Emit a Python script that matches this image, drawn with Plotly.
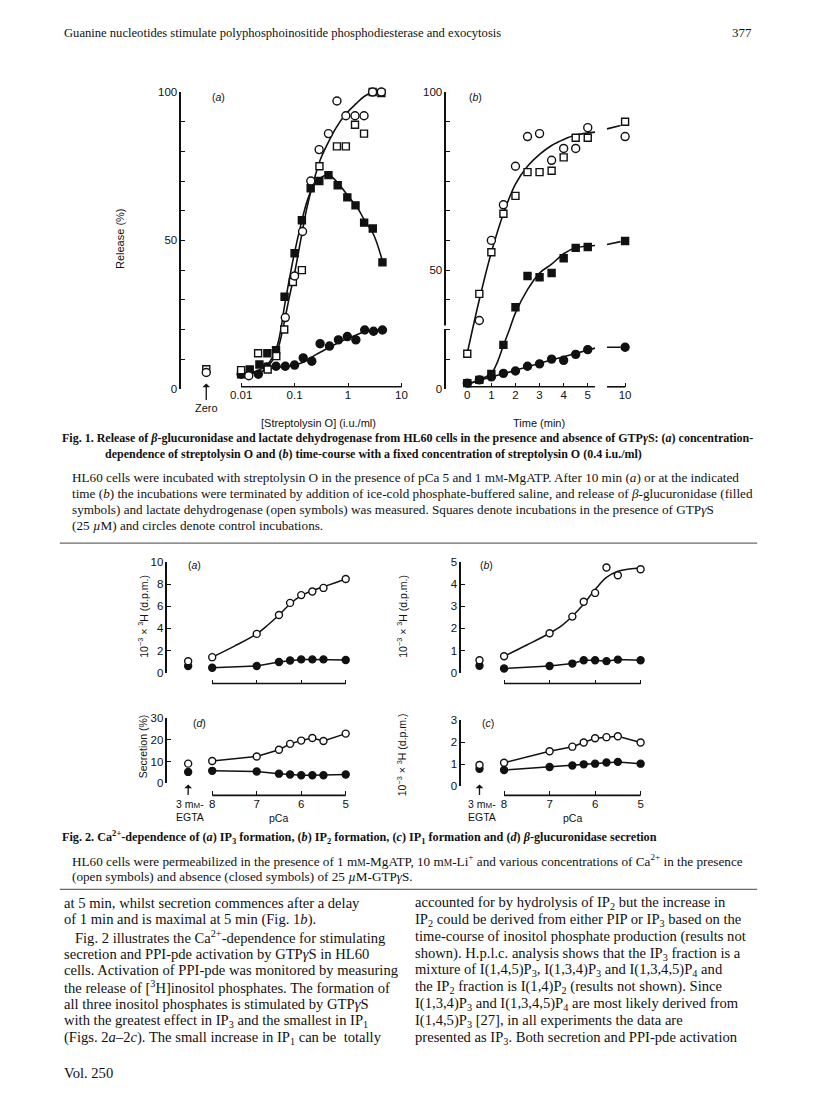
import math
import plotly.graph_objects as go

W, H = 816, 1104
def px(x): return x / W
def py(y): return 1 - y / H

SERIF = "Liberation Serif"
SANS = "Liberation Sans"
INK = "#111111"

# ---------------- Fig 1a : streptolysin O concentration ----------------
SLO_OC_X = [0.0139, 0.067, 0.1, 0.141, 0.201, 0.288, 0.43, 0.62, 0.91, 1.35, 1.99, 2.88, 4.2]
SLO_OC_Y = [4.4, 24, 38, 53, 70, 80.6, 86, 97, 92, 92, 92, 100, 100]
SLO_OS_X = [0.01, 0.0208, 0.0314, 0.0455, 0.064, 0.093, 0.137, 0.292, 0.62, 0.91, 1.35, 1.99, 2.88, 4.2]
SLO_OS_Y = [6.3, 12, 6.5, 11, 20, 36, 40, 75, 81.7, 81.7, 89, 86, 100, 99.7]
SLO_FS_X = [0.01, 0.0145, 0.022, 0.031, 0.045, 0.065, 0.1, 0.137, 0.2, 0.29, 0.43, 0.64, 0.97, 1.38, 2.0, 2.9, 4.4]
SLO_FS_Y = [4.9, 6.5, 8.2, 12, 13, 31, 45.7, 56.8, 67.6, 70, 72, 68.6, 64.5, 61.8, 56, 54, 42.6]
SLO_FC_X = [0.01, 0.021, 0.03, 0.045, 0.067, 0.1, 0.145, 0.21, 0.3, 0.45, 0.66, 0.97, 1.4, 2.05, 3.0, 4.4]
SLO_FC_Y = [4.9, 4.9, 7.4, 7.6, 7.6, 8, 10.4, 9.3, 15.2, 14.4, 16.5, 17.6, 16.5, 19.8, 19.4, 19.8]
ZERO_OPEN_CIRCLE = 5.5
ZERO_OPEN_SQUARE = 6.6

SLO_CURVE_OPEN_X = [0.03, 0.04, 0.05, 0.065, 0.08, 0.1, 0.13, 0.17, 0.22, 0.3, 0.4, 0.6, 0.9, 1.4, 2.0, 3.0, 4.3]
SLO_CURVE_OPEN_Y = [7, 10, 14, 23, 31, 39, 50, 61, 69, 77, 82, 88, 92.5, 96, 98.5, 100, 100]
SLO_CURVE_FS_X = [0.01, 0.02, 0.03, 0.04, 0.05, 0.065, 0.08, 0.1, 0.13, 0.17, 0.22, 0.3, 0.43, 0.6, 1.0, 1.5, 2.0, 3.0, 4.4]
SLO_CURVE_FS_Y = [5, 6, 8, 11, 16, 28, 37, 46, 55, 63, 68, 71, 72, 70, 65, 61, 57, 52, 43]
SLO_CURVE_FC_X = [0.01, 0.02, 0.04, 0.07, 0.1, 0.15, 0.25, 0.4, 0.7, 1.0, 1.5, 2.0, 3.0, 4.4]
SLO_CURVE_FC_Y = [5, 5.5, 7, 7.6, 8, 9, 11.5, 13.5, 15.8, 17, 18.3, 19.2, 19.8, 20]
SLO_TICKS = [0.01, 0.1, 1, 10]
SLO_TICK_TEXT = ["0.01", "0.1", "1", "10"]

# ---------------- Fig 1b : time course ----------------
T_PTS = [0, 0.5, 1, 1.5, 2, 2.5, 3, 3.5, 4, 4.5, 5, 10]
T_OC_Y = [None, 23, 50, 62, 75, 85, 86, 77, 81, 81, 88, 85]
T_OS_Y = [11.8, 32, 46, 59, 65, 73, 73, 73.5, 78, 84.6, 84.6, 90]
T_FS_Y = [1.9, 3, 5, 14.8, 27.5, 38, 37.6, 39, 44, 47.5, 47.8, 49.8]
T_FC_Y = [1.9, 3, 4, 5.2, 6, 7.6, 8.4, 10, 9.6, 11.6, 13.2, 14]

T_CURVE_OPEN_T = [0, 0.5, 1, 1.5, 2, 2.5, 3, 3.5, 4, 4.5, 5.3]
T_CURVE_OPEN_Y = [12, 30, 46, 59, 69, 75, 79, 82, 84, 85.5, 86.5]
T_CURVE_FS_T = [0, 0.5, 1, 1.25, 1.5, 1.75, 2, 2.5, 3, 3.5, 4, 4.5, 5.3]
T_CURVE_FS_Y = [1.3, 3, 5.2, 9, 14.6, 20, 25.6, 33.4, 39, 42, 45.5, 47.5, 48.3]
T_CURVE_FC_T = [0, 1, 2, 3, 4, 5.3]
T_CURVE_FC_Y = [1.7, 4, 6.2, 8.6, 10.8, 13.7]
T_TAIL_T = [8, 9.5]
T_TAIL_OPEN_Y = [87.6, 88.7]
T_TAIL_FS_Y = [48.6, 49.6]
T_TAIL_FC_Y = [14, 14]
T_TICKS = [0, 1, 2, 3, 4, 5, 10]

def tpos(t):
    # broken time axis: 0-5 min linear, then a compressed stretch up to 10 min
    return t if t <= 5.5 else 6.55 - (10 - t) * 0.375

# ---------------- Fig 2 : pCa dependence ----------------
PCA = [8, 7, 6.5, 6.25, 6, 5.75, 5.5, 5]
EGTA_POS = 8.54
IP3_OPEN = [1.4, 3.5, 5.2, 6.3, 7.0, 7.33, 7.65, 8.45]
IP3_CLOSED = [0.44, 0.6, 0.97, 1.1, 1.2, 1.2, 1.2, 1.15]
IP3_EGTA = (1.03, 0.6)
IP2_OPEN = [0.74, 1.78, 2.53, 3.2, 3.6, 4.75, 4.4, 4.67]
IP2_CLOSED = [0.19, 0.3, 0.41, 0.56, 0.56, 0.52, 0.59, 0.56]
IP2_EGTA = (0.56, 0.31)
IP1_OPEN = [1.07, 1.59, 1.8, 1.99, 2.18, 2.23, 2.27, 1.99]
IP1_CLOSED = [0.74, 0.88, 0.95, 1.0, 1.03, 1.08, 1.11, 1.03]
IP1_EGTA = (0.97, 0.8)
SEC_OPEN = [10.3, 12.4, 15.5, 18.2, 19.7, 20.9, 19.5, 22.9]
SEC_CLOSED = [5.8, 5.5, 4.5, 4.1, 3.8, 3.8, 3.8, 4.1]
SEC_EGTA = (9.1, 5.3)

IP3_CURVE_PCA = [8, 7.5, 7, 6.75, 6.5, 6.25, 6, 5.75, 5.5, 5.25, 5]
IP3_CURVE_Y = [1.4, 2.4, 3.5, 4.3, 5.2, 6.2, 6.95, 7.4, 7.75, 8.1, 8.45]
IP2_CURVE_PCA = [8, 7.5, 7, 6.75, 6.5, 6.25, 6, 5.75, 5.5, 5.25, 5]
IP2_CURVE_Y = [0.74, 1.25, 1.78, 2.1, 2.55, 3.1, 3.75, 4.3, 4.58, 4.68, 4.72]

fig = go.Figure()

def mk(symbol, filled, size):
    return dict(symbol=symbol, size=size, color=INK if filled else "white",
                line=dict(color=INK, width=1.4))

def line_trace(x, y, xa, ya, spline=True, width=1.6):
    fig.add_trace(go.Scatter(x=x, y=y, xaxis=xa, yaxis=ya, mode="lines",
                             line=dict(color=INK, width=width, shape="spline" if spline else "linear",
                                       smoothing=1.0),
                             hoverinfo="skip", showlegend=False, cliponaxis=False))

def pts(x, y, xa, ya, symbol, filled, size=8):
    fig.add_trace(go.Scatter(x=x, y=y, xaxis=xa, yaxis=ya, mode="markers",
                             marker=mk(symbol, filled, size), showlegend=False, cliponaxis=False))

# ---- Fig 1a traces
ZERO_LOG = -2.652
line_trace(SLO_CURVE_FC_X, SLO_CURVE_FC_Y, "x", "y")
line_trace(SLO_CURVE_FS_X, SLO_CURVE_FS_Y, "x", "y")
line_trace(SLO_CURVE_OPEN_X, SLO_CURVE_OPEN_Y, "x", "y")
pts(SLO_FC_X, SLO_FC_Y, "x", "y", "circle", True)
pts(SLO_FS_X, SLO_FS_Y, "x", "y", "square", True, 7)
pts(SLO_OS_X, SLO_OS_Y, "x", "y", "square", False, 7)
pts(SLO_OC_X, SLO_OC_Y, "x", "y", "circle", False)
pts([10 ** ZERO_LOG], [ZERO_OPEN_SQUARE], "x", "y", "square", False, 7)
pts([10 ** ZERO_LOG], [ZERO_OPEN_CIRCLE], "x", "y", "circle", False)

# ---- Fig 1b traces
line_trace([tpos(t) for t in T_CURVE_FC_T], T_CURVE_FC_Y, "x2", "y2")
line_trace([tpos(t) for t in T_CURVE_FS_T], T_CURVE_FS_Y, "x2", "y2")
line_trace([tpos(t) for t in T_CURVE_OPEN_T], T_CURVE_OPEN_Y, "x2", "y2")
for tail in (T_TAIL_OPEN_Y, T_TAIL_FS_Y, T_TAIL_FC_Y):
    line_trace([tpos(t) for t in T_TAIL_T], tail, "x2", "y2", spline=False)
tp = [tpos(t) for t in T_PTS]
pts(tp, T_FC_Y, "x2", "y2", "circle", True)
pts(tp, T_FS_Y, "x2", "y2", "square", True, 7)
pts(tp, T_OS_Y, "x2", "y2", "square", False, 7)
pts(tp, T_OC_Y, "x2", "y2", "circle", False)

# ---- Fig 2 traces
def panel(xa, ya, open_y, closed_y, egta, curve=None):
    if curve:
        line_trace(curve[0], curve[1], xa, ya, spline=True, width=1.5)
    else:
        line_trace(PCA, open_y, xa, ya, spline=False, width=1.5)
    line_trace(PCA, closed_y, xa, ya, spline=False, width=1.5)
    pts(PCA, closed_y, xa, ya, "circle", True, 7)
    pts(PCA, open_y, xa, ya, "circle", False, 7)
    pts([EGTA_POS], [egta[1]], xa, ya, "circle", True, 7)
    pts([EGTA_POS], [egta[0]], xa, ya, "circle", False, 7)

panel("x3", "y3", IP3_OPEN, IP3_CLOSED, IP3_EGTA, (IP3_CURVE_PCA, IP3_CURVE_Y))
panel("x4", "y4", IP2_OPEN, IP2_CLOSED, IP2_EGTA, (IP2_CURVE_PCA, IP2_CURVE_Y))
panel("x5", "y5", SEC_OPEN, SEC_CLOSED, SEC_EGTA)
panel("x6", "y6", IP1_OPEN, IP1_CLOSED, IP1_EGTA)

tickfont = dict(family=SANS, size=11.5, color=INK)

def yax(dom, rng, tickvals, ticktext, anchor):
    return dict(domain=dom, range=rng, anchor=anchor, showline=True, linecolor=INK, linewidth=1.6,
                ticks="inside", ticklen=4, tickwidth=1.4, tickcolor=INK, tickvals=tickvals,
                ticktext=ticktext, tickfont=tickfont, showgrid=False, zeroline=False, fixedrange=True)

def xax(dom, rng, pos, tickvals, ticktext, typ="linear"):
    return dict(domain=dom, range=rng, type=typ, anchor="free", position=pos, showline=False,
                ticks="inside", ticklen=4, tickwidth=1.4, tickcolor=INK, tickvals=tickvals,
                ticktext=ticktext, tickfont=tickfont, showgrid=False, zeroline=False, fixedrange=True)

Y1_TICKS = list(range(0, 101, 10))
layout = dict(
    width=W, height=H, autosize=False, margin=dict(l=0, r=0, t=0, b=0),
    paper_bgcolor="white", plot_bgcolor="rgba(0,0,0,0)", showlegend=False,
    xaxis=xax([px(182), px(406)], [-3.118, 1.056], py(385), SLO_TICKS, SLO_TICK_TEXT, "log"),
    yaxis=yax([py(387), py(87)], [0, 100], Y1_TICKS,
              ["0" if v == 0 else "50" if v == 50 else "100" if v == 100 else "" for v in Y1_TICKS], "x"),
    xaxis2=xax([px(448), px(632)], [-0.868, 6.74], py(385), [tpos(t) for t in T_TICKS],
               [str(t) for t in T_TICKS]),
    yaxis2=yax([py(387), py(87)], [0, 100], Y1_TICKS,
               ["0" if v == 0 else "50" if v == 40 else "100" if v == 100 else "" for v in Y1_TICKS], "x2"),
    xaxis3=xax([px(168), px(352)], [9.007, 4.888], py(685), [8, 7, 6, 5], ["", "", "", ""]),
    yaxis3=yax([py(674), py(562)], [0, 10], [0, 2, 4, 6, 8, 10], ["0", "2", "4", "6", "8", "10"], "x3"),
    xaxis4=xax([px(463), px(648)], [8.94, 4.89], py(685), [8, 7, 6, 5], ["", "", "", ""]),
    yaxis4=yax([py(674), py(562)], [0, 5], [0, 1, 2, 3, 4, 5], ["0", "1", "2", "3", "4", "5"], "x4"),
    xaxis5=xax([px(168), px(352)], [9.007, 4.888], py(798), [8, 7, 6, 5], ["8", "7", "6", "5"]),
    yaxis5=yax([py(786), py(720)], [0, 30], [0, 10, 20, 30], ["0", "10", "20", "30"], "x5"),
    xaxis6=xax([px(463), px(648)], [8.94, 4.89], py(798), [8, 7, 6, 5], ["8", "7", "6", "5"]),
    yaxis6=yax([py(789), py(722)], [0, 3], [0, 1, 2, 3], ["0", "1", "2", "3"], "x6"),
)
fig.update_layout(**layout)

shapes = []
def hline(x0, x1, y, w=1.6, color=INK):
    shapes.append(dict(type="line", xref="paper", yref="paper", x0=px(x0), x1=px(x1),
                       y0=py(y), y1=py(y), line=dict(color=color, width=w)))

def log_px(v):  # page pixel x of a value on Fig 1a log axis
    return 182 + (math.log10(v) + 3.118) / (1.056 + 3.118) * (406 - 182)
def lin_px(v, d0, d1, r0, r1):
    return d0 + (v - r0) / (r1 - r0) * (d1 - d0)

hline(log_px(SLO_TICKS[0]), log_px(SLO_TICKS[-1]), 385)
hline(lin_px(tpos(0), 448, 632, -0.868, 6.74), lin_px(tpos(5.3), 448, 632, -0.868, 6.74), 385)
hline(lin_px(tpos(8), 448, 632, -0.868, 6.74), lin_px(tpos(10), 448, 632, -0.868, 6.74), 385)
for (d0, d1, r0, r1, yy) in [(168, 352, 9.007, 4.888, 685), (463, 648, 8.94, 4.89, 685),
                             (168, 352, 9.007, 4.888, 798), (463, 648, 8.94, 4.89, 798)]:
    hline(lin_px(8, d0, d1, r0, r1), lin_px(5, d0, d1, r0, r1), yy)
# small break in Fig 1b y axis
shapes.append(dict(type="rect", xref="paper", yref="paper", x0=px(445.5), x1=px(450),
                   y0=py(326.5), y1=py(323), fillcolor="white", line=dict(width=0), layer="above"))
# page rules
hline(60, 760, 543, 1.0, "#444")
hline(60, 760, 893, 1.0, "#444")

annotations = []
def txt(x, y, s, size=13, family=SERIF, anchor="left", angle=0, color=INK):
    annotations.append(dict(xref="paper", yref="paper", x=px(x), y=py(y), text=s, showarrow=False,
                            xanchor=anchor, yanchor="middle", textangle=angle,
                            font=dict(family=family, size=size, color=color)))

MM = "m<span style='font-size:9.5px'>M</span>"
MM_SANS = "m<span style='font-size:8px'>M</span>"

# header
txt(62, 27, "Guanine nucleotides stimulate polyphosphoinositide phosphodiesterase and exocytosis", 12.6)
txt(757, 27, "377", 13, anchor="right")

# Fig 1 annotations
txt(211, 92, "(<i>a</i>)", 10.5, SANS)
txt(469, 92, "(<i>b</i>)", 10.5, SANS)
txt(121, 235, "Release (%)", 11, SANS, "center", -90)
txt(320, 422, "[Streptolysin O] (i.u./ml)", 11, SANS, "center")
txt(541, 422, "Time (min)", 11, SANS, "center")
txt(207, 406, "Zero", 11, SANS, "center")
annotations.append(dict(xref="x", yref="y", x=ZERO_LOG, y=1.8, ax=0, ay=18, showarrow=True,
                        arrowhead=1, arrowsize=1, arrowwidth=1.3, arrowcolor=INK, text=""))

# Fig 1 caption
txt(60, 437, "<b>Fig. 1. Release of <i>β</i>-glucuronidase and lactate dehydrogenase from HL60 cells in the presence and absence of GTP<i>γ</i>S: (<i>a</i>) concentration-</b>", 12.0)
txt(103, 453, "<b>dependence of streptolysin O and (<i>b</i>) time-course with a fixed concentration of streptolysin O (0.4 i.u./ml)</b>", 12.0)
cap1 = [
    "HL60 cells were incubated with streptolysin O in the presence of pCa 5 and 1 " + MM + "-MgATP. After 10 min (<i>a</i>) or at the indicated",
    "time (<i>b</i>) the incubations were terminated by addition of ice-cold phosphate-buffered saline, and release of <i>β</i>-glucuronidase (filled",
    "symbols) and lactate dehydrogenase (open symbols) was measured. Squares denote incubations in the presence of GTP<i>γ</i>S",
    "(25 <i>µ</i>M) and circles denote control incubations.",
]
for i, s in enumerate(cap1):
    txt(70, 477 + 16 * i, s, 13.2)

# Fig 2 annotations
txt(187, 565, "(<i>a</i>)", 10.5, SANS)
txt(480, 565, "(<i>b</i>)", 10.5, SANS)
txt(192, 725, "(<i>d</i>)", 10.5, SANS)
txt(482, 725, "(<i>c</i>)", 10.5, SANS)
DPM = "10<sup>−3</sup> × <sup>3</sup>H (d.p.m.)"
txt(143, 617, DPM, 10.5, SANS, "center", -90)
txt(403, 617, DPM, 10.5, SANS, "center", -90)
txt(403, 757, DPM, 10.5, SANS, "center", -90)
txt(143, 748, "Secretion (%)", 10.5, SANS, "center", -90)
for xc in (191, 484):
    txt(xc, 807, "3 " + MM_SANS + "-", 10.5, SANS, "center")
    txt(xc, 820, "EGTA", 10.5, SANS, "center")
txt(280, 821, "pCa", 10.5, SANS, "center")
txt(575, 821, "pCa", 10.5, SANS, "center")
for xa in ("x5", "x6"):
    annotations.append(dict(xref=xa, yref="paper", x=EGTA_POS, y=py(787), ax=0, ay=12, showarrow=True,
                            arrowhead=1, arrowsize=1, arrowwidth=1.3, arrowcolor=INK, text=""))

txt(60, 840, "<b>Fig. 2. Ca<sup>2+</sup>-dependence of (<i>a</i>) IP<sub>3</sub> formation, (<i>b</i>) IP<sub>2</sub> formation, (<i>c</i>) IP<sub>1</sub> formation and (<i>d</i>) <i>β</i>-glucuronidase secretion</b>", 12.2)
txt(70, 864, "HL60 cells were permeabilized in the presence of 1 " + MM + "-MgATP, 10 " + MM + "-Li<sup>+</sup> and various concentrations of Ca<sup>2+</sup> in the presence", 13.2)
txt(70, 880, "(open symbols) and absence (closed symbols) of 25 <i>µ</i>M-GTP<i>γ</i>S.", 13.2)

left_col = [
    "at 5 min, whilst secretion commences after a delay",
    "of 1 min and is maximal at 5 min (Fig. 1<i>b</i>).",
    "   Fig. 2 illustrates the Ca<sup>2+</sup>-dependence for stimulating",
    "secretion and PPI-pde activation by GTP<i>γ</i>S in HL60",
    "cells. Activation of PPI-pde was monitored by measuring",
    "the release of [<sup>3</sup>H]inositol phosphates. The formation of",
    "all three inositol phosphates is stimulated by GTP<i>γ</i>S",
    "with the greatest effect in IP<sub>3</sub> and the smallest in IP<sub>1</sub>",
    "(Figs. 2<i>a</i>–2<i>c</i>). The small increase in IP<sub>1</sub> can be  totally",
]
right_col = [
    "accounted for by hydrolysis of IP<sub>2</sub> but the increase in",
    "IP<sub>2</sub> could be derived from either PIP or IP<sub>3</sub> based on the",
    "time-course of inositol phosphate production (results not",
    "shown). H.p.l.c. analysis shows that the IP<sub>3</sub> fraction is a",
    "mixture of I(1,4,5)P<sub>3</sub>, I(1,3,4)P<sub>3</sub> and I(1,3,4,5)P<sub>4</sub> and",
    "the IP<sub>2</sub> fraction is I(1,4)P<sub>2</sub> (results not shown). Since",
    "I(1,3,4)P<sub>3</sub> and I(1,3,4,5)P<sub>4</sub> are most likely derived from",
    "I(1,4,5)P<sub>3</sub> [27], in all experiments the data are",
    "presented as IP<sub>3</sub>. Both secretion and PPI-pde activation",
]
for i, s in enumerate(left_col):
    txt(62, 907 + 17 * i, s, 14.6)
for i, s in enumerate(right_col):
    txt(415, 907 + 17 * i, s, 14.6)
txt(62, 1079, "Vol. 250", 14.6)

fig.update_layout(shapes=shapes, annotations=annotations)
# remove the browser's default page margin so the figure sits at the top-left corner
fig.write_html("out.html", config={"displayModeBar": False}, post_script=(
    "document.body.style.margin='0';document.body.style.overflow='hidden';"
    "document.documentElement.style.overflow='hidden';"))
